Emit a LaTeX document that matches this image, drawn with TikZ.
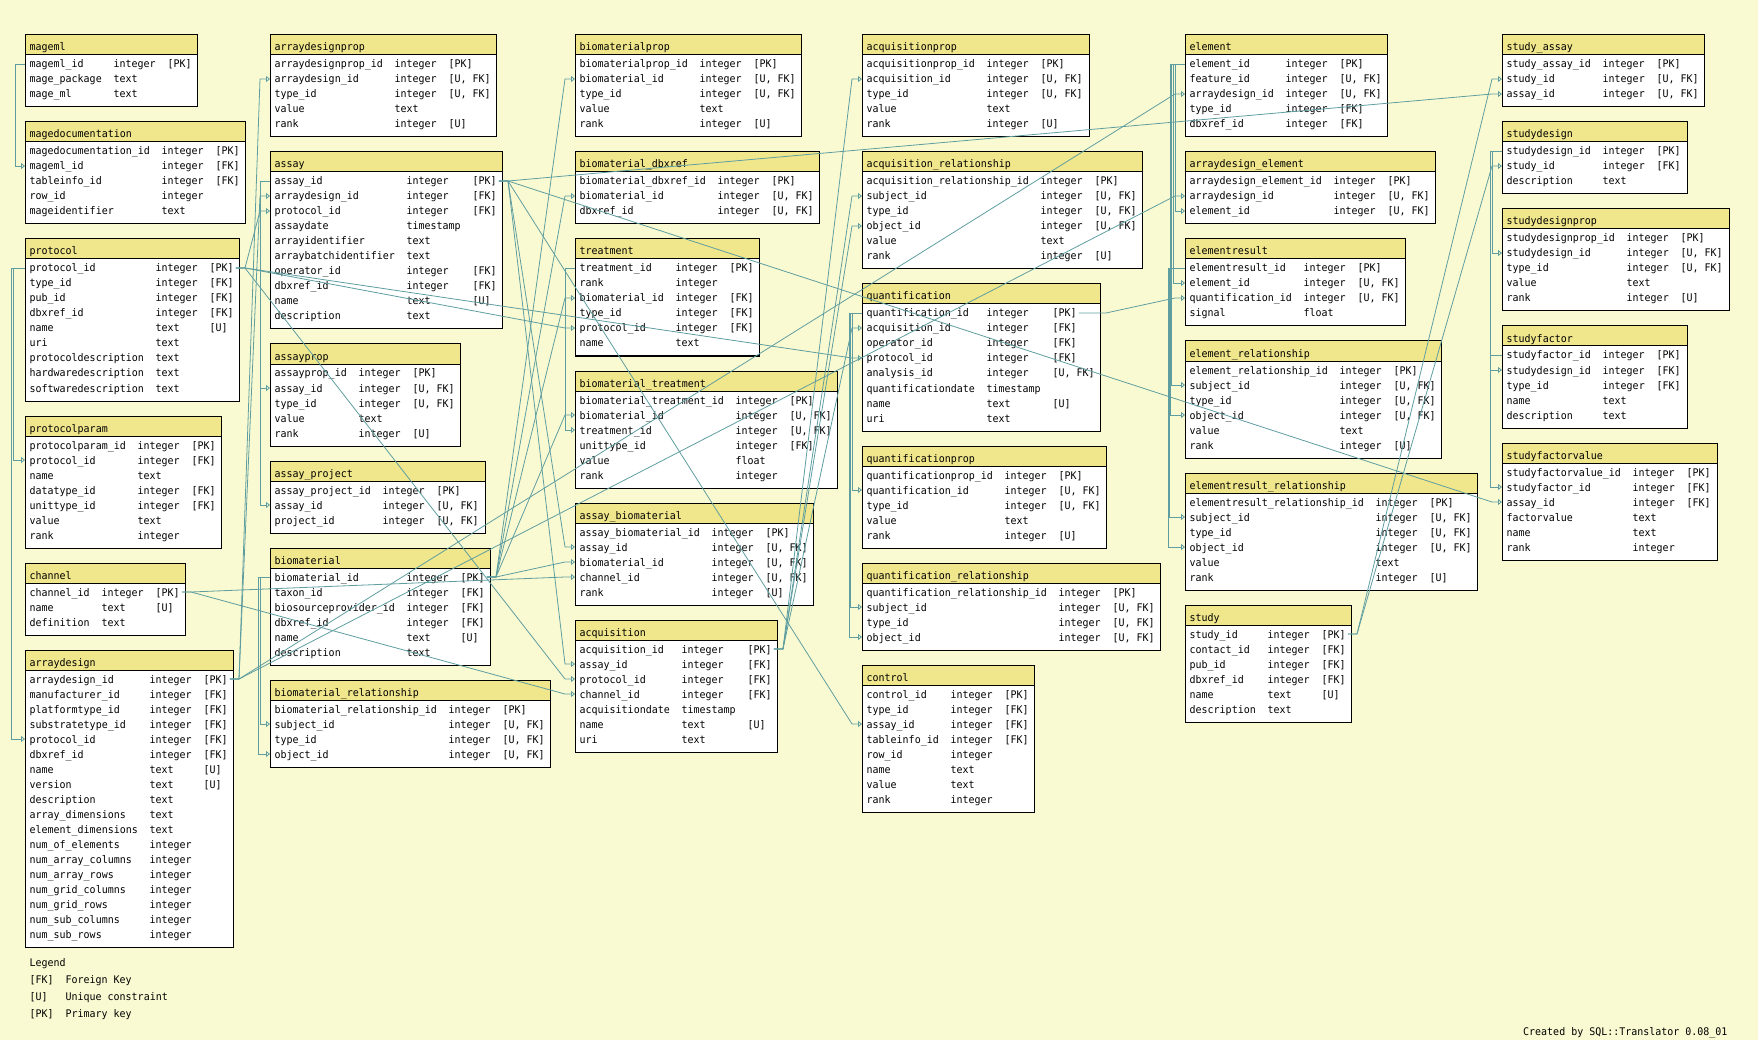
\documentclass[tikz,border=0pt]{standalone}
\usepackage{fontspec}
\newfontfamily\dbfont[FakeStretch=0.95]{DejaVu Sans Mono}
\usetikzlibrary{arrows.meta}
\definecolor{paper}{RGB}{250,250,210}
\definecolor{headkhaki}{RGB}{240,230,140}
\definecolor{linkblue}{RGB}{95,158,160}
\tikzset{
   tblhead/.style = {fill=headkhaki, draw=black, line width=1pt},
   tblbody/.style = {fill=white, draw=black, line width=1pt},
     field/.style = {anchor=west, inner sep=0pt, text height=9pt, text depth=1pt,
                     font=\dbfont\fontsize{10.5}{12}\selectfont},
        fk/.style = {draw=linkblue, line width=0.8pt,
                     -{Triangle[open, length=4pt, width=6pt]}},   % <--- foreign key arrow
}
% table: id, left, top, right, rows, name column, type column, fields
\newcommand{\dbtable}[8]{%
  \path[tblhead] (#2,#3) rectangle (#4,#3+20);
  \path[tblbody] (#2,#3+20) rectangle (#4,#3+27+15*#5);
  \node[field] (#1) at (#2+4.5,#3+12) {#1};
  \foreach \fn/\ft/\fc [count=\i from 0] in {#8} {
    \node[field] (#1-\fn) at (#2+4.5,#3+29+15*\i)
      {\makebox[\dimexpr6pt*#6\relax][l]{\fn}\makebox[\dimexpr6pt*#7\relax][l]{\ft}\fc};
    \coordinate (#1-\fn-l) at (#2,#3+29+15*\i);
    \coordinate (#1-\fn-r) at (#4,#3+29+15*\i);
  }
}
% link between columns
\newcommand{\fklink}[4]{\draw[fk] ([xshift=2pt]#1-#2.east) -- ([xshift=6pt]#1-#2-r)
  -- ([xshift=-10pt]#3-#4-l) -- (#3-#4-l);}
% link inside one column, on the left
\newcommand{\fkside}[5]{\draw[fk] (#1-#2-l) -- ++(-#5,0) |- (#3-#4-l);}

\begin{document}
\catcode`\_=12
\begin{tikzpicture}[x=1pt,y=-1pt]
\fill[paper] (0,0) rectangle (1758,1040);
\useasboundingbox (0,0) rectangle (1758,1040);

% column 1
\dbtable{mageml}{25}{35}{197}{3}{14}{9}{mageml_id/integer/[PK],mage_package/text/{},mage_ml/text/{}}
\dbtable{magedocumentation}{25}{122}{245}{5}{22}{9}{magedocumentation_id/integer/[PK],
  mageml_id/integer/[FK],tableinfo_id/integer/[FK],row_id/integer/{},mageidentifier/text/{}}
\dbtable{protocol}{25}{239}{239}{9}{21}{9}{protocol_id/integer/[PK],type_id/integer/[FK],
  pub_id/integer/[FK],dbxref_id/integer/[FK],name/text/[U],uri/text/{},
  protocoldescription/text/{},hardwaredescription/text/{},softwaredescription/text/{}}
\dbtable{protocolparam}{25}{416}{221}{7}{18}{9}{protocolparam_id/integer/[PK],
  protocol_id/integer/[FK],name/text/{},datatype_id/integer/[FK],unittype_id/integer/[FK],
  value/text/{},rank/integer/{}}
\dbtable{channel}{25}{563}{185}{3}{12}{9}{channel_id/integer/[PK],name/text/[U],definition/text/{}}
\dbtable{arraydesign}{25}{650}{233}{18}{20}{9}{arraydesign_id/integer/[PK],
  manufacturer_id/integer/[FK],platformtype_id/integer/[FK],substratetype_id/integer/[FK],
  protocol_id/integer/[FK],dbxref_id/integer/[FK],name/text/[U],version/text/[U],
  description/text/{},array_dimensions/text/{},element_dimensions/text/{},
  num_of_elements/integer/{},num_array_columns/integer/{},num_array_rows/integer/{},
  num_grid_columns/integer/{},num_grid_rows/integer/{},num_sub_columns/integer/{},
  num_sub_rows/integer/{}}

% column 2
\dbtable{arraydesignprop}{270}{35}{496}{5}{20}{9}{arraydesignprop_id/integer/[PK],
  arraydesign_id/integer/{[U, FK]},type_id/integer/{[U, FK]},value/text/{},rank/integer/[U]}
\dbtable{assay}{270}{152}{502}{10}{22}{11}{assay_id/integer/[PK],arraydesign_id/integer/[FK],
  protocol_id/integer/[FK],assaydate/timestamp/{},arrayidentifier/text/{},
  arraybatchidentifier/text/{},operator_id/integer/[FK],dbxref_id/integer/[FK],
  name/text/[U],description/text/{}}
\dbtable{assayprop}{270}{344}{460}{5}{14}{9}{assayprop_id/integer/[PK],
  assay_id/integer/{[U, FK]},type_id/integer/{[U, FK]},value/text/{},rank/integer/[U]}
\dbtable{assay_project}{270}{461}{485}{3}{18}{9}{assay_project_id/integer/[PK],
  assay_id/integer/{[U, FK]},project_id/integer/{[U, FK]}}
\dbtable{biomaterial}{270}{548}{490}{6}{22}{9}{biomaterial_id/integer/[PK],
  taxon_id/integer/[FK],biosourceprovider_id/integer/[FK],dbxref_id/integer/[FK],
  name/text/[U],description/text/{}}
\dbtable{biomaterial_relationship}{270}{680}{550}{4}{29}{9}{biomaterial_relationship_id/integer/[PK],
  subject_id/integer/{[U, FK]},type_id/integer/{[U, FK]},object_id/integer/{[U, FK]}}

% column 3
\dbtable{biomaterialprop}{575}{35}{801}{5}{20}{9}{biomaterialprop_id/integer/[PK],
  biomaterial_id/integer/{[U, FK]},type_id/integer/{[U, FK]},value/text/{},rank/integer/[U]}
\dbtable{biomaterial_dbxref}{575}{152}{819}{3}{23}{9}{biomaterial_dbxref_id/integer/[PK],
  biomaterial_id/integer/{[U, FK]},dbxref_id/integer/{[U, FK]}}
\dbtable{treatment}{575}{239}{759}{6}{16}{9}{treatment_id/integer/[PK],rank/integer/{},
  biomaterial_id/integer/[FK],type_id/integer/[FK],protocol_id/integer/[FK],name/text/{}}
\dbtable{biomaterial_treatment}{575}{371}{837}{6}{26}{9}{biomaterial_treatment_id/integer/[PK],
  biomaterial_id/integer/{[U, FK]},treatment_id/integer/{[U, FK]},unittype_id/integer/[FK],
  value/float/{},rank/integer/{}}
\dbtable{assay_biomaterial}{575}{503}{813}{5}{22}{9}{assay_biomaterial_id/integer/[PK],
  assay_id/integer/{[U, FK]},biomaterial_id/integer/{[U, FK]},channel_id/integer/{[U, FK]},
  rank/integer/[U]}
\dbtable{acquisition}{575}{620}{777}{7}{17}{11}{acquisition_id/integer/[PK],
  assay_id/integer/[FK],protocol_id/integer/[FK],channel_id/integer/[FK],
  acquisitiondate/timestamp/{},name/text/[U],uri/text/{}}

% column 4
\dbtable{acquisitionprop}{862}{35}{1089}{5}{20}{9}{acquisitionprop_id/integer/[PK],
  acquisition_id/integer/{[U, FK]},type_id/integer/{[U, FK]},value/text/{},rank/integer/[U]}
\dbtable{acquisition_relationship}{862}{152}{1142}{6}{29}{9}{acquisition_relationship_id/integer/[PK],
  subject_id/integer/{[U, FK]},type_id/integer/{[U, FK]},object_id/integer/{[U, FK]},
  value/text/{},rank/integer/[U]}
\dbtable{quantification}{862}{284}{1100}{8}{20}{11}{quantification_id/integer/[PK],
  acquisition_id/integer/[FK],operator_id/integer/[FK],protocol_id/integer/[FK],
  analysis_id/integer/{[U, FK]},quantificationdate/timestamp/{},name/text/[U],uri/text/{}}
\dbtable{quantificationprop}{862}{446}{1106}{5}{23}{9}{quantificationprop_id/integer/[PK],
  quantification_id/integer/{[U, FK]},type_id/integer/{[U, FK]},value/text/{},rank/integer/[U]}
\dbtable{quantification_relationship}{862}{563}{1160}{4}{32}{9}{quantification_relationship_id/integer/[PK],
  subject_id/integer/{[U, FK]},type_id/integer/{[U, FK]},object_id/integer/{[U, FK]}}
\dbtable{control}{862}{665}{1034}{8}{14}{9}{control_id/integer/[PK],type_id/integer/[FK],
  assay_id/integer/[FK],tableinfo_id/integer/[FK],row_id/integer/{},name/text/{},
  value/text/{},rank/integer/{}}

% column 5
\dbtable{element}{1185}{35}{1387}{5}{16}{9}{element_id/integer/[PK],feature_id/integer/{[U, FK]},
  arraydesign_id/integer/{[U, FK]},type_id/integer/[FK],dbxref_id/integer/[FK]}
\dbtable{arraydesign_element}{1185}{152}{1435}{3}{24}{9}{arraydesign_element_id/integer/[PK],
  arraydesign_id/integer/{[U, FK]},element_id/integer/{[U, FK]}}
\dbtable{elementresult}{1185}{239}{1405}{4}{19}{9}{elementresult_id/integer/[PK],
  element_id/integer/{[U, FK]},quantification_id/integer/{[U, FK]},signal/float/{}}
\dbtable{element_relationship}{1185}{341}{1441}{6}{25}{9}{element_relationship_id/integer/[PK],
  subject_id/integer/{[U, FK]},type_id/integer/{[U, FK]},object_id/integer/{[U, FK]},
  value/text/{},rank/integer/[U]}
\dbtable{elementresult_relationship}{1185}{473}{1477}{6}{31}{9}{elementresult_relationship_id/integer/[PK],
  subject_id/integer/{[U, FK]},type_id/integer/{[U, FK]},object_id/integer/{[U, FK]},
  value/text/{},rank/integer/[U]}
\dbtable{study}{1185}{605}{1351}{6}{13}{9}{study_id/integer/[PK],contact_id/integer/[FK],
  pub_id/integer/[FK],dbxref_id/integer/[FK],name/text/[U],description/text/{}}

% column 6
\dbtable{study_assay}{1502}{35}{1704}{3}{16}{9}{study_assay_id/integer/[PK],
  study_id/integer/{[U, FK]},assay_id/integer/{[U, FK]}}
\dbtable{studydesign}{1502}{122}{1687}{3}{16}{9}{studydesign_id/integer/[PK],
  study_id/integer/[FK],description/text/{}}
\dbtable{studydesignprop}{1502}{209}{1729}{5}{20}{9}{studydesignprop_id/integer/[PK],
  studydesign_id/integer/{[U, FK]},type_id/integer/{[U, FK]},value/text/{},rank/integer/[U]}
\dbtable{studyfactor}{1502}{326}{1687}{5}{16}{9}{studyfactor_id/integer/[PK],
  studydesign_id/integer/[FK],type_id/integer/[FK],name/text/{},description/text/{}}
\dbtable{studyfactorvalue}{1502}{443}{1717}{6}{21}{9}{studyfactorvalue_id/integer/[PK],
  studyfactor_id/integer/[FK],assay_id/integer/[FK],factorvalue/text/{},name/text/{},
  rank/integer/{}}

% legend and credit
\node[field] (legend) at (29.5,962) {Legend};
\node[field] (legend-fk) at (29.5,979) {\makebox[36pt][l]{[FK]}Foreign Key};
\node[field] (legend-u) at (29.5,996) {\makebox[36pt][l]{[U]}Unique constraint};
\node[field] (legend-pk) at (29.5,1013) {\makebox[36pt][l]{[PK]}Primary key};
\node[field] (credit) at (1523,1031) {Created by SQL::Translator 0.08_01};

% links in one column
\fkside{mageml}{mageml_id}{magedocumentation}{mageml_id}{10}
\fkside{protocol}{protocol_id}{protocolparam}{protocol_id}{12}
\fkside{protocol}{protocol_id}{arraydesign}{protocol_id}{14}
\fkside{assay}{assay_id}{assayprop}{assay_id}{10}
\fkside{assay}{assay_id}{assay_project}{assay_id}{10}
\fkside{biomaterial}{biomaterial_id}{biomaterial_relationship}{subject_id}{10}
\fkside{biomaterial}{biomaterial_id}{biomaterial_relationship}{object_id}{12}
\fkside{treatment}{treatment_id}{biomaterial_treatment}{treatment_id}{10}
\fkside{quantification}{quantification_id}{quantificationprop}{quantification_id}{10}
\fkside{quantification}{quantification_id}{quantification_relationship}{subject_id}{12}
\fkside{quantification}{quantification_id}{quantification_relationship}{object_id}{13}
\fkside{element}{element_id}{arraydesign_element}{element_id}{10}
\fkside{element}{element_id}{elementresult}{element_id}{12}
\fkside{element}{element_id}{element_relationship}{subject_id}{14}
\fkside{element}{element_id}{element_relationship}{object_id}{15}
\fkside{elementresult}{elementresult_id}{elementresult_relationship}{subject_id}{16}
\fkside{elementresult}{elementresult_id}{elementresult_relationship}{object_id}{17}
\fkside{studydesign}{studydesign_id}{studydesignprop}{studydesign_id}{10}
\fkside{studydesign}{studydesign_id}{studyfactor}{studydesign_id}{12}
\fkside{studyfactor}{studyfactor_id}{studyfactorvalue}{studyfactor_id}{12}

% links between columns
\fklink{arraydesign}{arraydesign_id}{arraydesignprop}{arraydesign_id}
\fklink{arraydesign}{arraydesign_id}{assay}{arraydesign_id}
\fklink{arraydesign}{arraydesign_id}{element}{arraydesign_id}
\fklink{arraydesign}{arraydesign_id}{arraydesign_element}{arraydesign_id}
\fklink{protocol}{protocol_id}{assay}{protocol_id}
\fklink{protocol}{protocol_id}{treatment}{protocol_id}
\fklink{protocol}{protocol_id}{acquisition}{protocol_id}
\fklink{protocol}{protocol_id}{quantification}{protocol_id}
\fklink{channel}{channel_id}{assay_biomaterial}{channel_id}
\fklink{channel}{channel_id}{acquisition}{channel_id}
\fklink{assay}{assay_id}{assay_biomaterial}{assay_id}
\fklink{assay}{assay_id}{acquisition}{assay_id}
\fklink{assay}{assay_id}{control}{assay_id}
\fklink{assay}{assay_id}{study_assay}{assay_id}
\fklink{assay}{assay_id}{studyfactorvalue}{assay_id}
\fklink{biomaterial}{biomaterial_id}{biomaterialprop}{biomaterial_id}
\fklink{biomaterial}{biomaterial_id}{biomaterial_dbxref}{biomaterial_id}
\fklink{biomaterial}{biomaterial_id}{treatment}{biomaterial_id}
\fklink{biomaterial}{biomaterial_id}{biomaterial_treatment}{biomaterial_id}
\fklink{biomaterial}{biomaterial_id}{assay_biomaterial}{biomaterial_id}
\fklink{acquisition}{acquisition_id}{acquisitionprop}{acquisition_id}
\fklink{acquisition}{acquisition_id}{acquisition_relationship}{subject_id}
\fklink{acquisition}{acquisition_id}{acquisition_relationship}{object_id}
\fklink{acquisition}{acquisition_id}{quantification}{acquisition_id}
\fklink{quantification}{quantification_id}{elementresult}{quantification_id}
\fklink{study}{study_id}{study_assay}{study_id}
\fklink{study}{study_id}{studydesign}{study_id}
\end{tikzpicture}
\end{document}
